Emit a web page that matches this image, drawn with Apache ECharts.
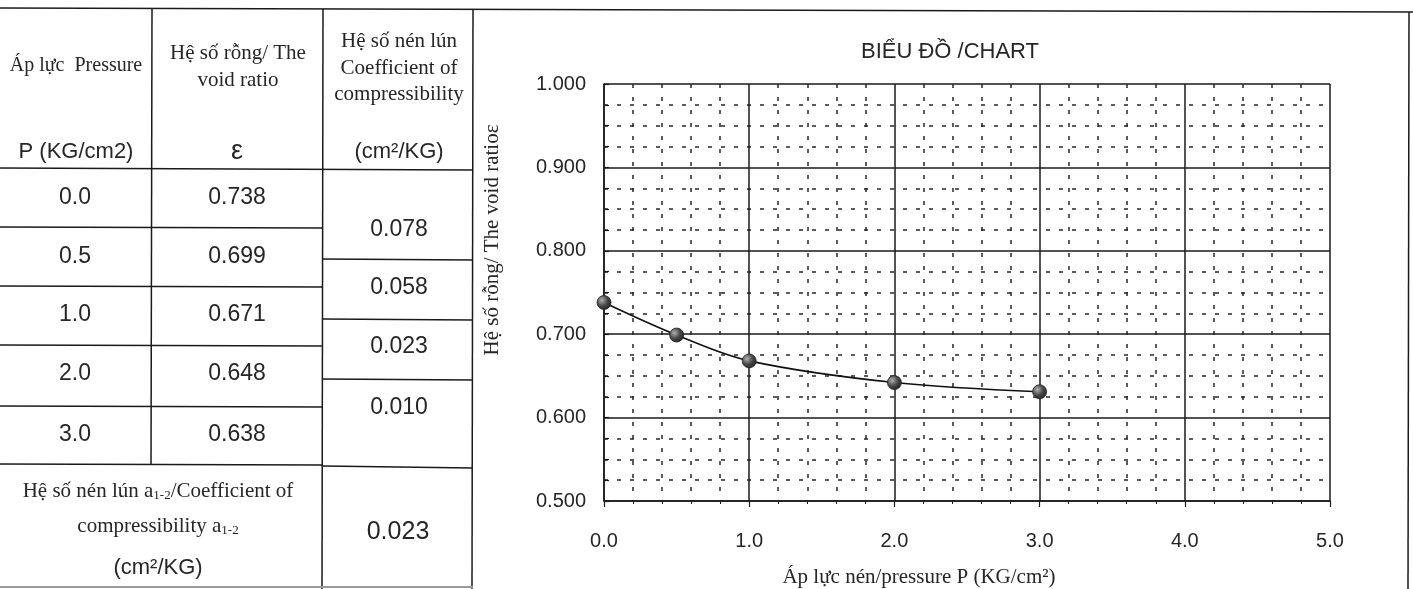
<!DOCTYPE html>
<html><head><meta charset="utf-8">
<script src="https://cdn.jsdelivr.net/npm/echarts@6/dist/echarts.min.js"></script>
<style>html,body{margin:0;padding:0;background:#fff}#c{width:1413px;height:589px}</style>
</head><body><div id="c"></div>
<script>
// ---- data ----
const pressure = [0.0, 0.5, 1.0, 2.0, 3.0];
const pressureLabels = ['0.0', '0.5', '1.0', '2.0', '3.0'];
const voidLabels = ['0.738', '0.699', '0.671', '0.648', '0.638'];
// void ratio as the points are plotted in the chart
const plottedVoidRatio = [0.738, 0.699, 0.668, 0.642, 0.631];
const coeffLabels = ['0.078', '0.058', '0.023', '0.010'];
const a12Label = '0.023';
const chartTitle = 'BIỂU ĐỒ /CHART';
const xAxisName = 'Áp lực nén/pressure P (KG/cm²)';
const yAxisName = 'Hệ số rỗng/ The void ratioε';
const hdrPressure = ['Áp lực  Pressure', 'P (KG/cm2)'];
const hdrVoid = ['Hệ số rỗng/ The', 'void ratio', 'ε'];
const hdrCoeff = ['Hệ số nén lún', 'Coefficient of', 'compressibility', '(cm²/KG)'];
const footLines = ['Hệ số nén lún a{sub|1-2}/Coefficient of', 'compressibility a{sub|1-2}', '(cm²/KG)'];

// ---- layout ----
const SERIF = 'Liberation Serif';
const SANS = 'Liberation Sans';
const INK = '#262626';
const rowY = [198, 257, 315, 374, 435];
const coeffY = [230, 288, 347, 408];

function L(x1, y1, x2, y2, w, c) {
  return { type: 'line', silent: true, shape: { x1, y1, x2, y2 },
    style: { stroke: c || '#1a1a1a', lineWidth: w || 1.5 } };
}
function T(text, x, y, size, family, extra) {
  return { type: 'text', silent: true, x, y,
    style: Object.assign({ text, fill: INK, fontSize: size, fontFamily: family,
      align: 'center', verticalAlign: 'middle' }, extra || {}) };
}

const g = [];
// frame & table lines
g.push(L(0, 8, 1413, 12, 1.6));
g.push(L(152, 9, 151, 465));
g.push(L(323, 9, 322, 589));
g.push(L(473, 10, 472, 589));
g.push(L(1409, 12, 1408, 589));
g.push(L(0, 168, 473, 170));
[227, 286, 345, 406].forEach(y => g.push(L(0, y, 323, y + 1)));
g.push(L(0, 464, 323, 465));
[259, 319, 379].forEach(y => g.push(L(323, y, 473, y + 1)));
g.push(L(323, 466, 473, 468));
g.push(L(0, 587, 473, 587, 2, '#9a9a9a'));

// header texts
g.push(T(hdrPressure[0], 76, 66, 20, SERIF));
g.push(T(hdrPressure[1], 76, 152, 22, SANS));
g.push(T(hdrVoid[0], 238, 53, 21, SERIF));
g.push(T(hdrVoid[1], 238, 80, 21, SERIF));
g.push(T(hdrVoid[2], 237, 152, 27, SANS));
g.push(T(hdrCoeff[0], 399, 41, 21, SERIF));
g.push(T(hdrCoeff[1], 399, 68, 21, SERIF));
g.push(T(hdrCoeff[2], 399, 94, 21, SERIF));
g.push(T(hdrCoeff[3], 399, 152, 22, SANS));

// rows
pressureLabels.forEach((t, i) => g.push(T(t, 75, rowY[i], 23, SANS)));
voidLabels.forEach((t, i) => g.push(T(t, 237, rowY[i], 23, SANS)));
coeffLabels.forEach((t, i) => g.push(T(t, 399, coeffY[i], 23, SANS)));

// footer
const subRich = { sub: { fontSize: 13, fontFamily: SERIF, fill: INK, padding: [9, 0, 0, 0] } };
g.push(T(footLines[0], 158, 491, 21, SERIF, { rich: subRich }));
g.push(T(footLines[1], 158, 526, 21, SERIF, { rich: subRich }));
g.push(T(footLines[2], 158, 568, 22, SANS));
g.push(T(a12Label, 398, 532, 25, SANS));

// axis names (placed as text)
const yName = T(yAxisName, 492, 240, 21, SERIF);
yName.rotation = Math.PI / 2;
g.push(yName);
g.push(T(xAxisName, 919, 577, 21, SERIF));

const chart = echarts.init(document.getElementById('c'), null, { renderer: 'canvas' });
chart.setOption({
  backgroundColor: '#ffffff',
  animation: false,
  title: {
    text: chartTitle, left: 945, top: 36, textAlign: 'center',
    textStyle: { fontFamily: SANS, fontSize: 22, fontWeight: 'normal', color: INK }
  },
  grid: { left: 604, right: 83, top: 84, bottom: 88 },
  xAxis: {
    type: 'value', min: 0, max: 5, interval: 1,
    axisLine: { show: true, lineStyle: { color: '#1a1a1a', width: 1.5 } },
    axisTick: { show: true, length: 6, lineStyle: { color: '#1a1a1a', width: 1.2 } },
    minorTick: { show: true, splitNumber: 5, length: 3, lineStyle: { color: '#1a1a1a' } },
    axisLabel: { formatter: v => v.toFixed(1), fontFamily: SANS, fontSize: 20, color: INK, margin: 30 },
    splitLine: { show: true, lineStyle: { color: '#1a1a1a', width: 1.5 } },
    minorSplitLine: { show: true, lineStyle: { color: '#262626', width: 1.5, type: [4, 9] } }
  },
  yAxis: {
    type: 'value', min: 0.5, max: 1.0, interval: 0.1,
    axisLine: { show: true, lineStyle: { color: '#1a1a1a', width: 1.5 } },
    axisTick: { show: true, inside: true, length: 5, lineStyle: { color: '#1a1a1a', width: 1.2 } },
    minorTick: { show: true, splitNumber: 4, length: 5, lineStyle: { color: '#1a1a1a', width: 1.2 } },
    axisLabel: { formatter: v => v.toFixed(3), fontFamily: SANS, fontSize: 20, color: INK, margin: 18 },
    splitLine: { show: true, lineStyle: { color: '#1a1a1a', width: 1.5 } },
    minorSplitLine: { show: true, lineStyle: { color: '#262626', width: 1.5, type: [4, 9] } }
  },
  series: [{
    type: 'line',
    data: pressure.map((p, i) => [p, plottedVoidRatio[i]]),
    smooth: 0.35,
    symbol: 'circle', symbolSize: 14,
    lineStyle: { color: '#111', width: 1.6 },
    itemStyle: {
      color: new echarts.graphic.RadialGradient(0.35, 0.35, 0.75, [
        { offset: 0, color: '#b0b0b0' }, { offset: 0.5, color: '#4a4a4a' }, { offset: 1, color: '#1e1e1e' }
      ]),
      borderColor: '#222', borderWidth: 0.8
    },
    z: 5
  }],
  graphic: g
});
</script>
</body></html>
